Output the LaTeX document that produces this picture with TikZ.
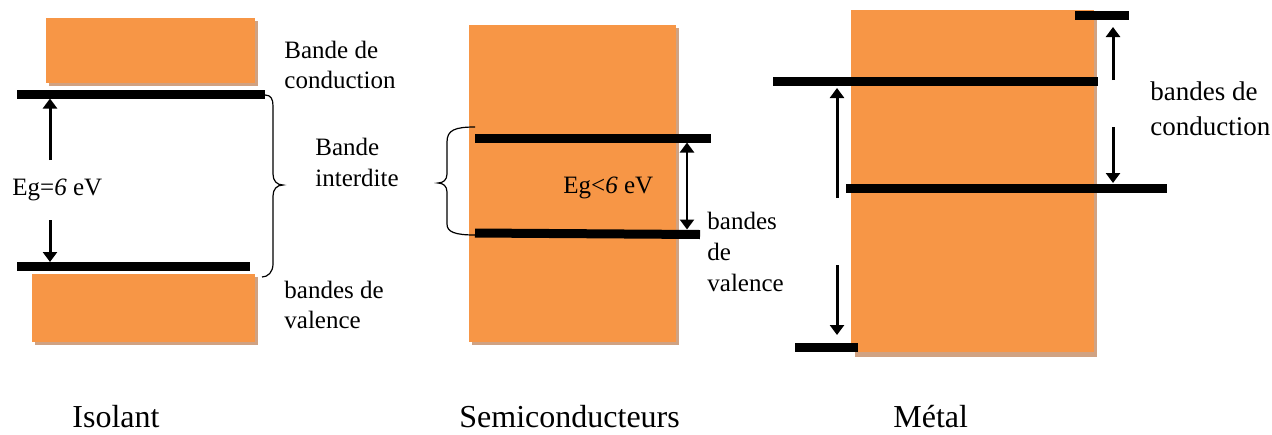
\documentclass[tikz,border=0pt]{standalone}
\usepackage{fontspec}
\setmainfont{Liberation Serif}
\usetikzlibrary{arrows.meta}
\definecolor{bandorange}{RGB}{247,150,70}
\definecolor{bandshadow}{RGB}{208,162,130}
\begin{document}
\begin{tikzpicture}[x=0.5pt,y=-0.5pt,
  band/.style={fill=bandorange, draw=none},
  bandshade/.style={fill=bandshadow, draw=none},
  level/.style={line width=4.5pt},
  gaparrow/.style={line width=1.5pt, -{Triangle[width=7pt,length=5pt]}},
  gapdouble/.style={line width=1.2pt, {Triangle[width=7pt,length=5pt]}-{Triangle[width=7pt,length=5pt]}},
  bracket/.style={line width=0.6pt},
  lbl/.style={anchor=base west, inner sep=0pt, font=\fontsize{12.5}{15}\selectfont},
  lblbig/.style={anchor=base west, inner sep=0pt, font=\fontsize{13.5}{17}\selectfont},
  title/.style={anchor=base west, inner sep=0pt, font=\fontsize{16}{19}\selectfont}]
\useasboundingbox (0,0) rectangle (1272,434);

% ---------- Isolant ----------
\fill[bandshade] (49,21) rectangle (258,86);
\fill[band] (46,18) rectangle (255,83);
\fill[bandshade] (35,277) rectangle (258,345);
\fill[band] (32,274) rectangle (255,342);
\draw[level] (17,94) -- (265,94);
\draw[level] (17,266) -- (250,266);
\coordinate (iUs) at (50,160);
\coordinate (iUe) at (50,98.5);
\coordinate (iDs) at (50,220);
\coordinate (iDe) at (50,262);
\draw[gaparrow] (iUs) -- (iUe);
\draw[gaparrow] (iDs) -- (iDe);
\draw[bracket] (265,95) .. controls (271,95) and (273,99) .. (273,106) -- (273,174)
  .. controls (273,181) and (277,185) .. (283,185)
  .. controls (277,185) and (273,189) .. (273,196) -- (273,264)
  .. controls (273,272) and (268,277) .. (262,277);
\node[lbl] (iEg) at (12,195) {Eg=\textit{6} eV};
\node[lbl] (iBc1) at (284,58) {Bande de};
\node[lbl] (iBc2) at (284,88) {conduction};
\node[lbl] (iBi1) at (315,155) {Bande};
\node[lbl] (iBi2) at (315,186) {interdite};
\node[lbl] (iBv1) at (284,298) {bandes de};
\node[lbl] (iBv2) at (284,328) {valence};
\node[title] (iT) at (72,427) {Isolant};

% ---------- Semiconducteurs ----------
\fill[bandshade] (472,28) rectangle (679,345);
\fill[band] (469,25) rectangle (676,342);
\draw[level] (475,138) -- (711,138);
\draw[level] (475,233) -- (700,234.5);
\coordinate (sT) at (687,142.5);
\coordinate (sB) at (687,229.5);
\draw[gapdouble] (sB) -- (sT);
\draw[bracket] (475,127) .. controls (455,127) and (447,130) .. (447,142) -- (447,174)
  .. controls (447,180) and (443,183) .. (438,183)
  .. controls (443,183) and (447,186) .. (447,192) -- (447,224)
  .. controls (447,232) and (455,235) .. (475,235);
\node[lbl] (sEg) at (563,193) {Eg<\textit{6} eV};
\node[lbl] (sBv1) at (707,229) {bandes};
\node[lbl] (sBv2) at (707,260) {de};
\node[lbl] (sBv3) at (707,291) {valence};
\node[title] (sT2) at (459,427) {Semiconducteurs};

% ---------- Métal ----------
\fill[bandshade] (855,14) rectangle (1097,357);
\fill[band] (851,10) rectangle (1094,352);
\draw[level] (1075,15) -- (1129,15);
\draw[level] (773,81) -- (1098,81);
\draw[level] (846,188) -- (1167,188);
\draw[level] (795,347) -- (858,347);
\coordinate (mRUs) at (1113,80);
\coordinate (mRUe) at (1113,27);
\coordinate (mRDs) at (1113,127);
\coordinate (mRDe) at (1113,183);
\coordinate (mLUs) at (837,198);
\coordinate (mLUe) at (837,88);
\coordinate (mLDs) at (837,265);
\coordinate (mLDe) at (837,335);
\draw[gaparrow] (mRUs) -- (mRUe);
\draw[gaparrow] (mRDs) -- (mRDe);
\draw[gaparrow] (mLUs) -- (mLUe);
\draw[gaparrow] (mLDs) -- (mLDe);
\node[lblbig] (mBc1) at (1150,100) {bandes de};
\node[lblbig] (mBc2) at (1150,135) {conduction};
\node[title] (mT) at (893,427) {Métal};
\end{tikzpicture}
\end{document}
